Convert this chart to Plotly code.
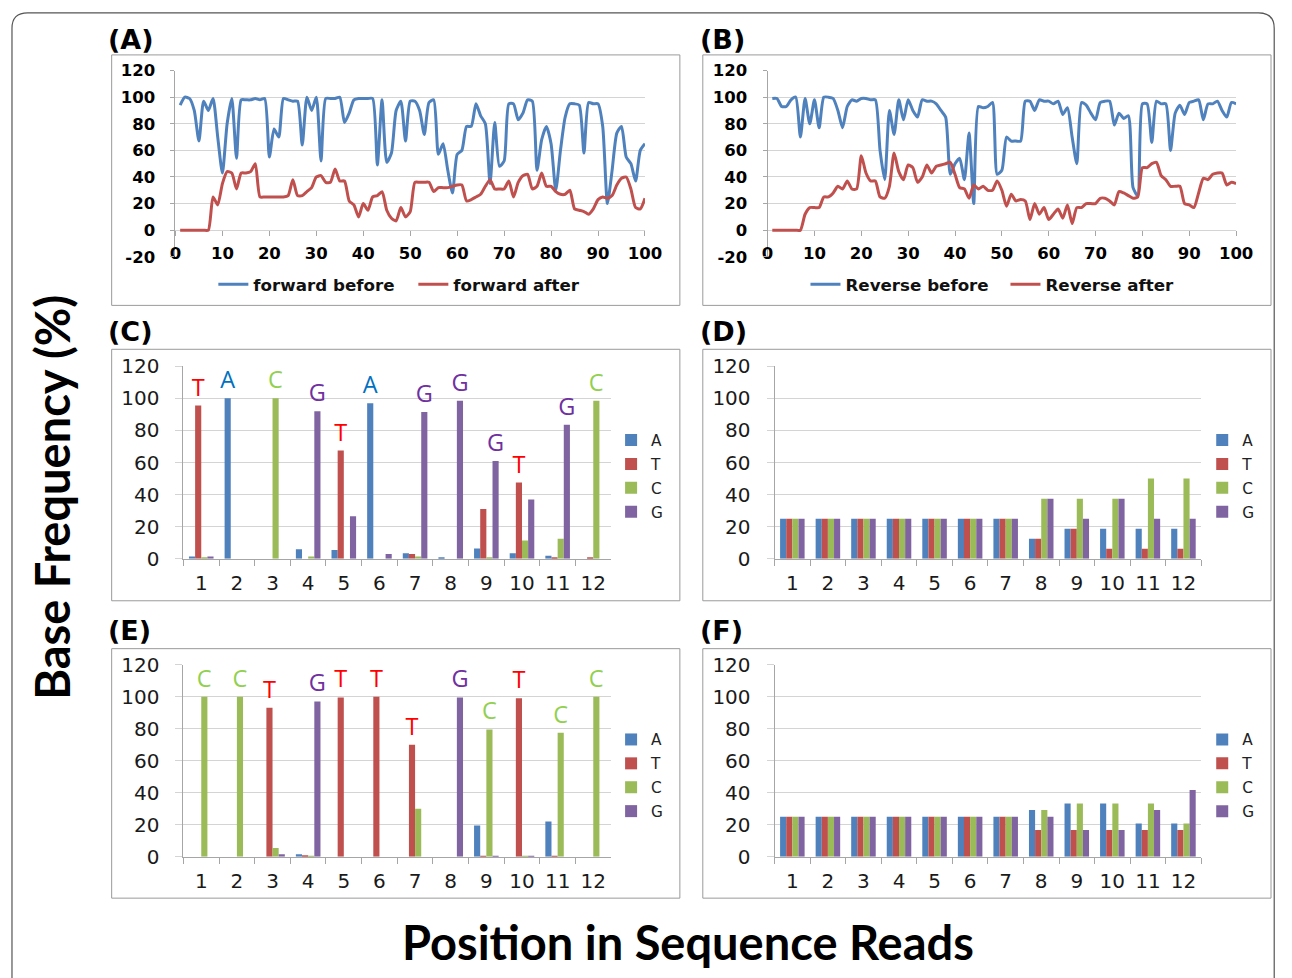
import plotly.graph_objects as go

W, H = 1292, 978
# the photographed page maps figure pixels to picture pixels as
#   picture_x = 4 + 0.9853 * x,  picture_y = 12 + 0.9775 * y
# so geometry (given in picture pixels) is converted back before use.
SX, OX, SY, OY = 0.9853, 4.0, 0.9775, 12.0
def px(x): return ((x - OX) / SX) / W
def py(y): return 1 - ((y - OY) / SY) / H

# ---------------- data ----------------
read_positions = list(range(1, 101))
forward_before = [94,100,99,90,67,97,90,99,70,43,80,99,54,98,98,98,99,98,99,55,
                  76,70,99,98,97,97,64,100,90,100,52,99,99,99,100,81,88,98,99,99,
                  99,99,49,98,51,58,90,97,67,97,97,90,72,96,98,57,65,45,28,57,
                  60,78,78,95,86,80,35,81,48,52,95,95,83,88,98,97,45,68,78,65,
                  30,60,85,95,95,94,58,96,95,95,78,20,45,73,78,55,50,37,60,65]
forward_after = [0,0,0,0,0,0,0,25,19,35,44,43,31,43,43,44,50,25,25,25,
                 25,25,25,26,38,26,26,29,32,40,41,36,36,46,37,37,22,19,10,20,
                 15,25,26,29,15,9,7,17,10,14,36,36,36,36,29,32,32,32,33,34,
                 34,22,23,25,27,33,38,31,31,31,37,25,36,41,42,31,33,43,33,33,
                 29,27,27,30,16,15,14,12,16,23,25,24,26,34,39,40,31,17,16,24]
reverse_before = [99,99,93,93,98,100,70,99,80,98,77,100,100,99,90,77,93,98,97,99,
                  99,98,98,60,38,90,72,98,83,98,90,85,98,97,97,95,90,85,42,50,
                  54,38,73,20,93,92,93,96,42,45,70,67,67,67,97,97,90,98,97,97,
                  95,97,87,92,70,50,96,94,88,83,96,97,97,79,88,84,86,32,26,95,
                  95,66,97,95,95,60,88,94,87,96,97,98,83,95,95,97,90,85,96,95]
reverse_after = [0,0,0,0,0,0,0,12,17,17,17,25,25,28,33,31,37,31,31,56,
                 43,37,37,25,24,33,58,44,38,49,47,36,40,49,43,48,49,50,51,42,
                 32,31,24,34,31,33,30,30,37,30,18,27,22,23,22,8,20,12,17,8,
                 12,16,9,19,5,17,17,20,20,20,24,24,22,19,29,28,26,24,25,47,
                 47,50,51,41,38,33,33,33,20,19,17,28,39,38,42,43,43,34,36,35]

positions = [str(i) for i in range(1, 13)]
bases = ["A", "T", "C", "G"]

C_A = [1.5, 100, 0, 6, 5.5, 97, 3.5, 1, 6.5, 3.5, 2, 0]
C_T = [95.5, 0, 0, 0, 67.5, 0, 3, 0, 31, 47.5, 1, 0.5]
C_C = [1, 0, 100, 1.5, 0, 0, 1.5, 0, 1, 11.5, 12.5, 98.5]
C_G = [1.5, 0, 0, 92, 26.5, 3, 91.5, 98.5, 61, 37, 83.5, 0]
C_letters = ["T", "A", "C", "G", "T", "A", "G", "G", "G", "T", "G", "C"]

D_A = [25, 25, 25, 25, 25, 25, 25, 12.5, 18.75, 18.75, 18.75, 18.75]
D_T = [25, 25, 25, 25, 25, 25, 25, 12.5, 18.75, 6.25, 6.25, 6.25]
D_C = [25, 25, 25, 25, 25, 25, 25, 37.5, 37.5, 37.5, 50, 50]
D_G = [25, 25, 25, 25, 25, 25, 25, 37.5, 25, 37.5, 25, 25]

E_A = [0, 0, 0, 1.5, 0, 0, 0, 0, 19.5, 0, 22, 0]
E_T = [0, 0, 93, 1, 99.5, 100, 70, 0, 0.5, 99, 0.5, 0]
E_C = [100, 100, 5.5, 0.5, 0, 0, 30, 0, 79.5, 0.5, 77.5, 100]
E_G = [0, 0, 1.5, 97, 0, 0, 0, 99.5, 0.5, 0.5, 0, 0]
E_letters = ["C", "C", "T", "G", "T", "T", "T", "G", "C", "T", "C", "C"]

F_A = [25, 25, 25, 25, 25, 25, 25, 29.2, 33.3, 33.3, 20.8, 20.8]
F_T = [25, 25, 25, 25, 25, 25, 25, 16.7, 16.7, 16.7, 16.7, 16.7]
F_C = [25, 25, 25, 25, 25, 25, 25, 29.2, 33.3, 33.3, 33.3, 20.8]
F_G = [25, 25, 25, 25, 25, 25, 25, 25, 16.7, 16.7, 29.2, 41.7]

line_ticks = list(range(0, 101, 10))
line_yticks = list(range(-20, 121, 20))
line_yticktext = [str(v) for v in line_yticks]
grid_vals = list(range(0, 121, 20))

# ---------------- styles ----------------
bar_colors = {"A": "#4F81BD", "T": "#C0504D", "C": "#9BBB59", "G": "#8064A2"}
letter_colors = {"A": "#0070C0", "T": "#FF0000", "C": "#92D050", "G": "#7030A0"}
BLUE, RED = "#4F81BD", "#C0504D"
GRID = "#d4d4d4"
AXIS = "#a6a6a6"
BOX = "#9a9a9a"

fig = go.Figure()

line_panels = [
    ("x", "y", "legend", forward_before, forward_after, "forward before", "forward after"),
    ("x2", "y2", "legend2", reverse_before, reverse_after, "Reverse before", "Reverse after"),
]
for xa, ya, lg, before, after, nb, na in line_panels:
    fig.add_trace(go.Scatter(x=read_positions, y=before, mode="lines", name=nb,
                             line=dict(color=BLUE, width=3, shape="spline", smoothing=0.6),
                             xaxis=xa, yaxis=ya, legend=lg))
    fig.add_trace(go.Scatter(x=read_positions, y=after, mode="lines", name=na,
                             line=dict(color=RED, width=3, shape="spline", smoothing=0.6),
                             xaxis=xa, yaxis=ya, legend=lg))

bar_panels = [
    ("x3", "y3", "legend3", [C_A, C_T, C_C, C_G], C_letters, "c"),
    ("x4", "y4", "legend4", [D_A, D_T, D_C, D_G], None, "d"),
    ("x5", "y5", "legend5", [E_A, E_T, E_C, E_G], E_letters, "e"),
    ("x6", "y6", "legend6", [F_A, F_T, F_C, F_G], None, "f"),
]
for xa, ya, lg, series, letters, key in bar_panels:
    for b, vals in zip(bases, series):
        txt = [l if l == b else "" for l in letters] if letters else None
        fig.add_trace(go.Bar(x=positions, y=vals, name=b, marker_color=bar_colors[b],
                             marker_line_width=0,
                             text=txt, textposition="outside", cliponaxis=False,
                             constraintext="none",
                             textfont=dict(family="Open Sans", size=23.5, color=letter_colors[b]),
                             xaxis=xa, yaxis=ya, legend=lg, legendgroup=key + b))

tick_bold = dict(family="DejaVu Sans", size=16.5, color="#000", weight="bold")
tick_norm = dict(family="DejaVu Sans", size=20, color="#1a1a1a")

layout = dict(
    width=W, height=H, margin=dict(l=0, r=0, t=0, b=0),
    paper_bgcolor="white", plot_bgcolor="white",
    barmode="group", bargap=0.31, bargroupgap=0,
    showlegend=True, hovermode=False,
)

line_geo = {"": (174, 645), "2": (768, 1238)}
for s, (x0, x1) in line_geo.items():
    layout["xaxis" + s] = dict(domain=[px(x0), px(x1)], range=[0, 100], anchor="free",
                               position=py(230.7), tickvals=line_ticks, ticks="outside",
                               ticklen=5, tickcolor=AXIS, showgrid=False, showline=False,
                               zeroline=False, tickfont=tick_bold, ticklabelstandoff=3)
    layout["yaxis" + s] = dict(domain=[py(257.3), py(70.7)], range=[-20, 120],
                               anchor="x" + s, tickvals=line_yticks, ticktext=line_yticktext,
                               showgrid=False,
                               showline=True, linecolor=AXIS, ticks="outside", ticklen=4,
                               tickcolor=AXIS, zeroline=False, tickfont=tick_bold,
                               ticklabelstandoff=12,
                               minor=dict(tickmode="array", tickvals=grid_vals,
                                          showgrid=True, gridcolor=GRID, ticks=""))

bar_geo = {"3": (182, 611, 367, 560), "4": (775, 1203, 367, 560),
           "5": (182, 611, 666, 858.5), "6": (775, 1203, 666, 858.5)}
for s, (x0, x1, ytop, ybot) in bar_geo.items():
    layout["xaxis" + s] = dict(domain=[px(x0), px(x1)], anchor="y" + s, type="category",
                               showline=True, linecolor=AXIS, ticks="outside",
                               tickson="boundaries", ticklen=6, tickcolor=AXIS,
                               showgrid=False, zeroline=False, tickfont=tick_norm,
                               ticklabelstandoff=6)
    layout["yaxis" + s] = dict(domain=[py(ybot), py(ytop)], anchor="x" + s, range=[0, 120],
                               dtick=20, showgrid=True, gridcolor=GRID, showline=True,
                               linecolor=AXIS, ticks="outside", ticklen=7, tickcolor=GRID,
                               zeroline=False, tickfont=tick_norm, ticklabelstandoff=12)

leg_line_font = dict(family="DejaVu Sans", size=16.7, color="#111", weight="bold")
layout["legend"] = dict(orientation="h", x=px(212), y=py(285), xanchor="left",
                        yanchor="middle", font=leg_line_font, entrywidth=155,
                        entrywidthmode="pixels", bgcolor="rgba(0,0,0,0)", itemwidth=30)
layout["legend2"] = dict(orientation="h", x=px(806), y=py(285), xanchor="left",
                         yanchor="middle", font=leg_line_font, entrywidth=155,
                         entrywidthmode="pixels", bgcolor="rgba(0,0,0,0)", itemwidth=30)
leg_bar_font = dict(family="DejaVu Sans", size=15.3, color="#222")
for name, (lx, ly) in {"legend3": (611, 424.5), "legend4": (1204, 424.5),
                       "legend5": (611, 724.5), "legend6": (1204, 724.5)}.items():
    layout[name] = dict(x=px(lx), y=py(ly), xanchor="left", yanchor="top",
                        font=leg_bar_font, tracegroupgap=1, bgcolor="rgba(0,0,0,0)",
                        itemwidth=30)

fig.update_layout(**layout)

shapes = []
for (x0, y0, x1, y1) in [(110, 55, 680, 306), (703, 55, 1273, 306),
                         (110, 350, 680, 602), (703, 350, 1273, 602),
                         (110, 650, 680, 900), (703, 650, 1273, 900)]:
    shapes.append(dict(type="rect", xref="paper", yref="paper", x0=px(x0), x1=px(x1),
                       y0=py(y1), y1=py(y0), line=dict(color=BOX, width=1),
                       fillcolor="rgba(0,0,0,0)", layer="below"))
# outer rounded frame (right/top edges clamped to the page)
r = 16
fx0 = px(10)
fx1 = 1 - 0.8 / W
fy0 = 1 - 0.8 / H
rx, ry = r / W, r / H
frame_path = (f"M {fx0 + rx},{fy0} L {fx1 - rx},{fy0} Q {fx1},{fy0} {fx1},{fy0 - ry} "
              f"L {fx1},-0.05 L {fx0},-0.05 L {fx0},{fy0 - ry} Q {fx0},{fy0} {fx0 + rx},{fy0} Z")
shapes.append(dict(type="path", xref="paper", yref="paper", path=frame_path,
                   line=dict(color="#555", width=1.2), layer="below"))
fig.update_layout(shapes=shapes)

ann = []
label_font = dict(family="DejaVu Sans", size=27, color="#000", weight="bold")
for txt, x, y in [("(A)", 104.5, 40), ("(B)", 698.5, 40), ("(C)", 104.5, 332),
                  ("(D)", 698.5, 332), ("(E)", 104.5, 632), ("(F)", 698.5, 632)]:
    ann.append(dict(text=txt, x=px(x), y=py(y), xref="paper", yref="paper",
                    xanchor="left", yanchor="middle", showarrow=False, font=label_font))
title_font = dict(family="Lato", size=47, color="#000", weight="bold")
ann.append(dict(text="Base Frequency (%)", x=px(50), y=py(498), xref="paper", yref="paper",
                textangle=-90, showarrow=False, font=title_font,
                xanchor="center", yanchor="middle"))
ann.append(dict(text="Position in Sequence Reads", x=px(688), y=py(944), xref="paper",
                yref="paper", showarrow=False, font=title_font,
                xanchor="center", yanchor="middle"))
fig.update_layout(annotations=ann)

fig.write_html("out.html")
